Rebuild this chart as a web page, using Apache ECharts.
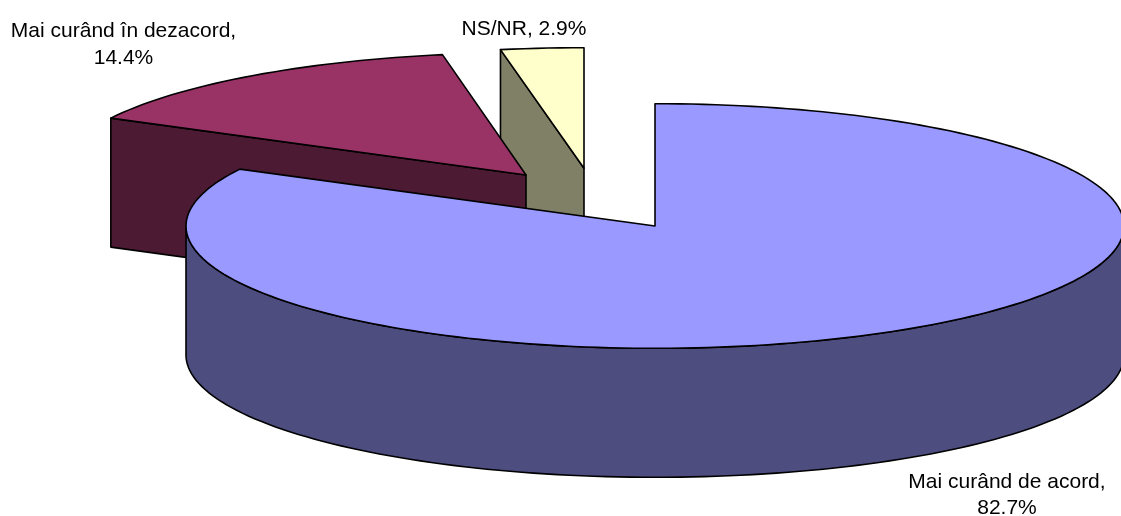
<!DOCTYPE html>
<html>
<head>
<meta charset="utf-8">
<style>html,body{margin:0;padding:0;background:#fff}#c{width:1121px;height:516px}</style>
<script src="https://cdn.jsdelivr.net/npm/echarts@6/dist/echarts.min.js"></script>
</head>
<body>
<div id="c"></div>
<script>
const categories = ['Mai curând de acord', 'Mai curând în dezacord', 'NS/NR'];
const values = [82.7, 14.45, 2.85];
const topColors = ['#9999FF', '#993366', '#FFFFCC'];
const sideColors = ['#4D4D80', '#4D1A33', '#808066'];

// layout of the 3D projection
const RX = 469, DEPTH = 129;
const RYs = [122.3, 122.3, 120.6];
const centers = [[655, 226], [526, 175], [584, 168.3]];
const labelPos = [[1007, 495], [123.5, 44.5], [524, 29]];
const labelLineBreak = [true, true, false];

const total = values.reduce((a, b) => a + b, 0);
const starts = [];
values.reduce((acc, v, i) => { starts[i] = acc; return acc + v; }, 0);

function pt(i, deg, dz) {
  const a = deg * Math.PI / 180, c = centers[i];
  return [c[0] + RX * Math.sin(a), c[1] - RYs[i] * Math.cos(a) + (dz || 0)];
}
function arc(i, a0, a1, dz) {
  const n = Math.max(2, Math.ceil(Math.abs(a1 - a0) / 1.5));
  const out = [];
  for (let k = 0; k <= n; k++) out.push(pt(i, a0 + (a1 - a0) * k / n, dz));
  return out;
}
const stroke = { stroke: '#000', lineWidth: 1.6, lineJoin: 'round' };

function poly(points, fill) {
  return { type: 'polygon', shape: { points }, style: Object.assign({ fill }, stroke) };
}

function renderItem(i, api) {
  const v = api.value(0);
  const a0 = starts[i] / total * 360;
  const a1 = a0 + v / total * 360;
  const c = centers[i];
  const children = [];
  const side = sideColors[i], top = topColors[i];

  // cut face on the opening edge: visible for the slices that sit in the back-left quadrant
  if (a0 > 270) {
    const p = pt(i, a0);
    children.push(poly([p, c, [c[0], c[1] + DEPTH], [p[0], p[1] + DEPTH]], side));
  }
  // outer wall: only the front half (90..270 degrees) is visible
  const w0 = Math.max(a0, 90), w1 = Math.min(a1, 270);
  if (w1 > w0) {
    children.push(poly(arc(i, w0, w1, 0).concat(arc(i, w1, w0, DEPTH)), side));
  }
  // top face
  children.push(poly([c].concat(arc(i, a0, a1, 0)), top));

  // label
  const txt = categories[i] + ',' + (labelLineBreak[i] ? '\n' : ' ') + v.toFixed(1) + '%';
  children.push({
    type: 'text',
    style: {
      x: labelPos[i][0], y: labelPos[i][1], text: txt,
      fill: '#000', fontFamily: '"Liberation Sans", Arial, sans-serif', fontSize: 21,
      lineHeight: 26.5, align: 'center', verticalAlign: 'middle'
    }
  });
  return { type: 'group', children };
}

// drawn back to front: NS/NR, dezacord, acord
const order = [2, 1, 0];
const chart = echarts.init(document.getElementById('c'), null, { renderer: 'canvas' });
chart.setOption({
  animation: false,
  backgroundColor: '#fff',
  series: order.map(idx => ({
    type: 'custom',
    coordinateSystem: 'none',
    name: categories[idx],
    silent: true,
    renderItem: (params, api) => renderItem(idx, api),
    data: [[values[idx]]]
  }))
});
</script>
</body>
</html>
